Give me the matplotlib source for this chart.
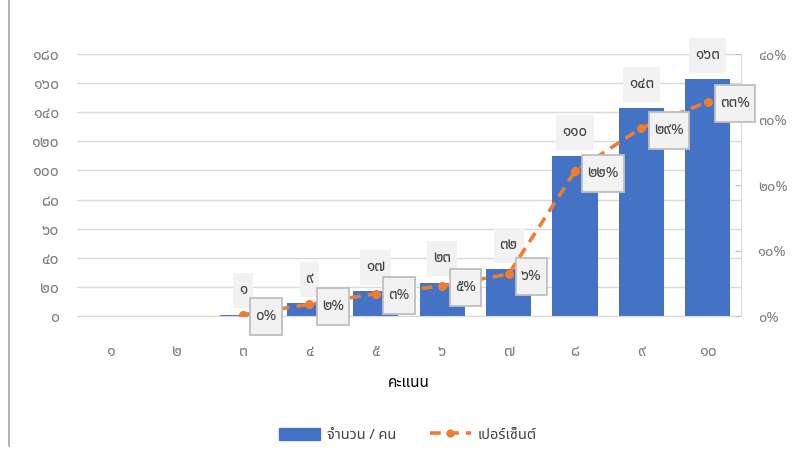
import matplotlib
matplotlib.use("Agg")
import matplotlib.pyplot as plt
from matplotlib import font_manager as fm
from matplotlib.lines import Line2D
from matplotlib.path import Path

# ฟอนต์ภาษาไทย
thai_fonts = ["Noto Sans Thai", "Noto Sans Thai Looped", "Sarabun", "Athiti"]
available = {f.name for f in fm.fontManager.ttflist}
font = next((f for f in thai_fonts if f in available), "DejaVu Sans")
plt.rcParams['font.family'] = [font, 'DejaVu Sans']

# ข้อมูล
scores = [1, 2, 3, 4, 5, 6, 7, 8, 9, 10]
score_labels = ["๑", "๒", "๓", "๔", "๕", "๖", "๗", "๘", "๙", "๑๐"]
counts = [0, 0, 1, 9, 17, 23, 32, 110, 143, 163]
count_labels = ["", "", "๑", "๙", "๑๗", "๒๓", "๓๒", "๑๑๐", "๑๔๓", "๑๖๓"]
pct_scores = [3, 4, 5, 6, 7, 8, 9, 10]
percents = [0.2, 1.8, 3.4, 4.6, 6.4, 22.1, 28.7, 32.7]
pct_labels = ["๐%", "๒%", "๓%", "๕%", "๖%", "๒๒%", "๒๙%", "๓๓%"]
left_ticks = [0, 20, 40, 60, 80, 100, 120, 140, 160, 180]
left_tick_labels = ["๐", "๒๐", "๔๐", "๖๐", "๘๐", "๑๐๐", "๑๒๐", "๑๔๐", "๑๖๐", "๑๘๐"]
right_ticks = [0, 10, 20, 30, 40]
right_tick_labels = ["๐%", "๑๐%", "๒๐%", "๓๐%", "๔๐%"]

blue = "#4472C4"
orange = "#ED7D31"
grey_txt = "#7f7f7f"
grid_c = "#d9d9d9"


# กล่องป้ายข้อมูล: ขอบแนวนอนแคบ แนวตั้งสูง (หน่วยพิกเซล)
def box(padx, pady):
    def style(x0, y0, width, height, mutation_size):
        x1, y1 = x0 + width + padx, y0 + height + pady
        x0, y0 = x0 - padx, y0 - pady
        return Path([(x0, y0), (x1, y0), (x1, y1), (x0, y1), (x0, y0)], closed=True)
    return style


fig = plt.figure(figsize=(7.92, 4.57), dpi=100)
ax = fig.add_axes([0.0972, 0.3085, 0.8384, 0.5733])

# แท่งกราฟ จำนวนคน
ax.bar(scores, counts, width=0.68, color=blue, zorder=2)
ax.set_xlim(0.5, 10.5)
ax.set_ylim(0, 180)
ax.set_yticks(left_ticks)
ax.set_yticklabels(left_tick_labels)
ax.set_xticks(scores)
ax.set_xticklabels(score_labels)
ax.grid(axis="y", color=grid_c, linewidth=1, zorder=0)
ax.tick_params(axis="y", length=0, pad=13, labelcolor=grey_txt, labelsize=11.5)
ax.tick_params(axis="x", length=0, pad=20, labelcolor=grey_txt, labelsize=11.5)
for s in ["top", "left", "right"]:
    ax.spines[s].set_visible(False)
ax.spines["bottom"].set_color(grid_c)

for x, c, lab in zip(scores, counts, count_labels):
    if lab == "":
        continue
    ax.annotate(lab, (x, c), xytext=(0, 17), textcoords="offset points",
                ha="center", va="center", fontsize=11, color="#404040",
                bbox=dict(boxstyle=box(6, 10), fc="#f2f2f2", ec="none"),
                zorder=3)

# เส้นกราฟ เปอร์เซ็นต์
ax2 = ax.twinx()
ax2.plot(pct_scores, percents, color=orange, linewidth=2.6, linestyle=(0, (3, 2)),
         marker="o", markersize=5.5, zorder=3)
ax2.set_ylim(0, 40)
ax2.set_yticks(right_ticks)
ax2.set_yticklabels(right_tick_labels)
ax2.tick_params(axis="y", direction="in", length=4, color="#bfbfbf", pad=12,
                labelcolor=grey_txt, labelsize=10.5)
for s in ["top", "left", "bottom"]:
    ax2.spines[s].set_visible(False)
ax2.spines["right"].set_color(grid_c)

for x, p, lab in zip(pct_scores, percents, pct_labels):
    ax2.annotate(lab, (x, p), xytext=(9, -1.5), textcoords="offset points",
                 ha="left", va="center", fontsize=11, color="#404040",
                 bbox=dict(boxstyle=box(5, 11), fc="#f2f2f2",
                           ec="#bfbfbf", lw=1.3),
                 zorder=5)

ax.set_xlabel("คะแนน", fontsize=11, fontweight="bold", labelpad=12)

# คำอธิบาย
handles = [plt.Rectangle((0, 0), 1, 1, color=blue),
           Line2D([], [], color=orange, linewidth=2.6, linestyle=(0, (3, 2)),
                  marker="o", markersize=5)]
fig.legend(handles, ["จำนวน / คน", "เปอร์เซ็นต์"], loc="center",
           bbox_to_anchor=(0.515, 0.048), ncol=2, frameon=False,
           fontsize=10.5, labelcolor="#404040", handlelength=2.8,
           handleheight=0.9, columnspacing=2.3, handletextpad=0.5)

# เส้นขอบซ้ายของภาพ
fig.add_artist(Line2D([0.011, 0.011], [0.025, 1.0], color="#a6a6a6", linewidth=1.2))

fig.savefig("out.png")
